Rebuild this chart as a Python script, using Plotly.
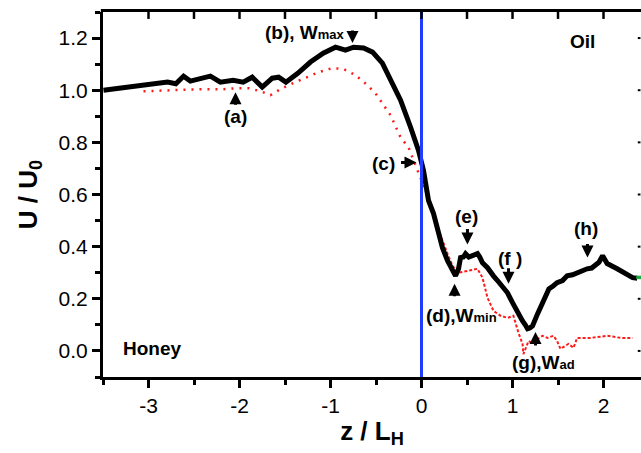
import plotly.graph_objects as go

# Black (measured) profile
z_black = [-3.495, -2.79, -2.70, -2.615, -2.54, -2.43, -2.32, -2.21, -2.07, -1.96, -1.86, -1.75,
           -1.64, -1.57, -1.49, -1.36, -1.22, -1.08, -0.945, -0.835, -0.747, -0.637, -0.538,
           -0.43, -0.34, -0.23, -0.12, -0.033, 0.022, 0.077, 0.132, 0.187, 0.23, 0.286, 0.34,
           0.374, 0.407, 0.429, 0.46, 0.484, 0.52, 0.56, 0.59, 0.615, 0.64, 0.67, 0.725, 0.76,
           0.79, 0.83, 0.868, 0.90, 0.945, 1.0, 1.055, 1.11, 1.14, 1.165, 1.19, 1.22, 1.275,
           1.30, 1.33, 1.37, 1.40, 1.45, 1.49, 1.55, 1.60, 1.66, 1.71, 1.76, 1.82, 1.87, 1.91,
           1.95, 1.99, 2.04, 2.15, 2.32, 2.37]
u_black = [1.0, 1.031, 1.025, 1.054, 1.035, 1.046, 1.054, 1.031, 1.038, 1.031, 1.05, 1.012,
           1.046, 1.05, 1.031, 1.065, 1.108, 1.142, 1.165, 1.154, 1.165, 1.162, 1.146,
           1.104, 1.038, 0.962, 0.858, 0.769, 0.692, 0.577, 0.527, 0.46, 0.396, 0.346, 0.308,
           0.288, 0.315, 0.358, 0.36, 0.373, 0.36, 0.365, 0.372, 0.373, 0.36, 0.338, 0.319, 0.30,
           0.288, 0.272, 0.258, 0.245, 0.223, 0.185, 0.146, 0.115, 0.10, 0.085, 0.088, 0.096, 0.142,
           0.16, 0.192, 0.215, 0.238, 0.25, 0.262, 0.27, 0.288, 0.292, 0.30, 0.305, 0.315, 0.318, 0.327,
           0.34, 0.365, 0.335, 0.315, 0.281, 0.279]

# Red (model) profile
z_red = [-3.055, -2.79, -2.43, -2.18, -2.02, -1.90, -1.77, -1.66, -1.53, -1.385, -1.25, -1.13,
         -0.978, -0.857, -0.725, -0.593, -0.505, -0.43, -0.34, -0.23, -0.143, 0.044, 0.175,
         0.286, 0.34, 0.407, 0.505, 0.615, 0.67, 0.725, 0.79, 0.868, 0.945, 1.01, 1.066, 1.11,
         1.12, 1.143, 1.176, 1.22, 1.275, 1.33, 1.385, 1.45, 1.49, 1.527, 1.615, 1.67, 1.71,
         1.857, 2.04, 2.19, 2.32]
u_red = [0.996, 1.0, 1.004, 1.004, 1.008, 1.008, 0.996, 0.981, 1.008, 1.031, 1.05, 1.069,
         1.085, 1.081, 1.058, 1.019, 0.988, 0.95, 0.904, 0.819, 0.781, 0.615, 0.474,
         0.373, 0.327, 0.30, 0.308, 0.315, 0.281, 0.204, 0.154, 0.135, 0.127, 0.135, 0.069, 0.027,
         -0.012, 0.012, 0.038, 0.03, 0.046, 0.058, 0.05, 0.058, 0.038, 0.008, 0.027, 0.012, 0.05,
         0.05, 0.058, 0.05, 0.05]

# Green segment at right edge
z_green = [2.36, 2.45]
u_green = [0.282, 0.282]

x_tickvals = [-3, -2, -1, 0, 1, 2]
x_ticktext = ["-3", "-2", "-1", "0", "1", "2"]
y_tickvals = [0.0, 0.2, 0.4, 0.6, 0.8, 1.0, 1.2]
y_ticktext = ["0.0", "0.2", "0.4", "0.6", "0.8", "1.0", "1.2"]
top_tickvals = [-3, -2.5, -2, -1.5, -1, -0.5, 0, 0.5, 1, 1.5, 2]

x_range = [-3.5, 2.412]
y_range = [-0.1, 1.3]

fig = go.Figure()

split = 0.1
zr1 = [z for z in z_red if z <= split]
ur1 = [u for z, u in zip(z_red, u_red) if z <= split]
zr2 = [z for z in z_red if z >= 0.044]
ur2 = [u for z, u in zip(z_red, u_red) if z >= 0.044]

fig.add_trace(go.Scatter(x=zr1, y=ur1, mode="lines",
                         line=dict(color="#ff1a1a", width=2.5, dash="2px,6px"),
                         showlegend=False, hoverinfo="skip"))
fig.add_trace(go.Scatter(x=zr2, y=ur2, mode="lines",
                         line=dict(color="#ff1a1a", width=2, dash="3px,2px"),
                         showlegend=False, hoverinfo="skip"))
fig.add_trace(go.Scatter(x=z_black, y=u_black, mode="lines",
                         line=dict(color="black", width=5), showlegend=False))
fig.add_trace(go.Scatter(x=z_green, y=u_green, mode="lines",
                         line=dict(color="#22aa44", width=3.5), showlegend=False))

# interface line
fig.add_shape(type="line", xref="x", yref="paper", x0=0, x1=0, y0=0, y1=1,
              line=dict(color="#1f3cff", width=3))

afont = dict(family="Liberation Sans, Arial", size=19, color="black")

texts = [
    ("<b>(a)</b>", -2.044, 0.90),
    ("<b>(b), W<span style='font-size:13px'>max</span></b>", -1.28, 1.223),
    ("<b>(c)</b>", -0.418, 0.719),
    ("<b>(d),W<span style='font-size:13px'>min</span></b>", 0.44, 0.135),
    ("<b>(e)</b>", 0.495, 0.515),
    ("<b>(f )</b>", 0.967, 0.354),
    ("<b>(g),W<span style='font-size:13px'>ad</span></b>", 1.34, -0.046),
    ("<b>(h)</b>", 1.813, 0.469),
    ("<b>Honey</b>", -2.956, 0.008),
    ("<b>Oil</b>", 1.77, 1.185),
]
for t, x, y in texts:
    fig.add_annotation(text=t, x=x, y=y, xref="x", yref="y", showarrow=False, font=afont)

arrows = [
    (-2.044, 0.992, 0, 14),
    (-0.758, 1.181, 0, -14),
    (-0.055, 0.723, -17, 0),
    (0.363, 0.258, 0, 14),
    (0.505, 0.408, 0, -17),
    (0.956, 0.258, 0, -17),
    (1.253, 0.073, 0, 15),
    (1.824, 0.358, 0, -15),
]
for x, y, ax, ay in arrows:
    fig.add_annotation(text="", x=x, y=y, ax=ax, ay=ay, xref="x", yref="y",
                       showarrow=True, arrowhead=2, arrowsize=0.8, arrowwidth=3,
                       arrowcolor="black")

# top frame line, inward ticks on it, and short marks on the right edge
fig.add_shape(type="line", xref="paper", yref="paper", x0=-0.004, x1=1, y0=1.004, y1=1.004,
              line=dict(color="black", width=3))
for v in top_tickvals:
    fig.add_shape(type="line", xref="x", yref="paper", x0=v, x1=v, y0=1, y1=0.981,
                  line=dict(color="black", width=2.5))
for v in y_tickvals:
    fig.add_shape(type="line", xref="paper", yref="y", x0=0.994, x1=0.999, y0=v, y1=v,
                  line=dict(color="black", width=2))

tfont = dict(family="Liberation Sans, Arial", size=21, color="black")

fig.update_layout(
    width=641, height=453,
    margin=dict(l=103, r=0, t=12, b=76),
    plot_bgcolor="white", paper_bgcolor="white",
    xaxis=dict(range=x_range, showgrid=False, zeroline=False,
               showline=True, linecolor="black", linewidth=3,
               ticks="outside", ticklen=8, tickwidth=2.5, tickcolor="black",
               tickmode="array", tickvals=x_tickvals, ticktext=x_ticktext, tickfont=tfont,
               minor=dict(dtick=0.5, tick0=0, ticks="outside", ticklen=5, tickwidth=2.5,
                          tickcolor="black"),
               title=dict(text="<b>z / L<sub>H</sub></b>",
                          font=dict(family="Liberation Sans, Arial", size=26, color="black"),
                          standoff=6)),
    yaxis=dict(range=y_range, showgrid=False, zeroline=False,
               showline=True, linecolor="black", linewidth=3,
               ticks="outside", ticklen=8, tickwidth=2.5, tickcolor="black",
               tickmode="array", tickvals=y_tickvals, ticktext=y_ticktext, tickfont=tfont,
               minor=dict(dtick=0.1, tick0=0, ticks="outside", ticklen=5, tickwidth=2.5,
                          tickcolor="black"),
               title=dict(text="<b>U / U<sub>0</sub></b>",
                          font=dict(family="Liberation Sans, Arial", size=26, color="black"),
                          standoff=14)),
)

fig.write_html("out.html", config={"displayModeBar": False},
               post_script="document.body.style.margin='0';document.body.style.overflow='hidden';")
